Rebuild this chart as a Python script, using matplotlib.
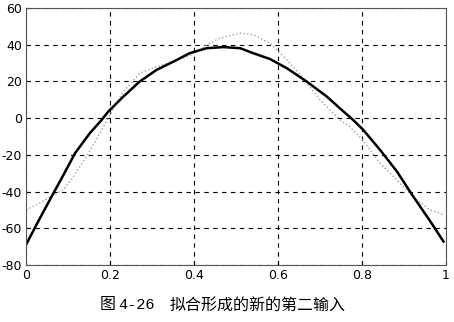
import numpy as np
import matplotlib.pyplot as plt

plt.rcParams['font.family'] = ['DejaVu Sans', 'Noto Sans CJK SC']
plt.rcParams['axes.unicode_minus'] = False

# fitted curve (solid black)
fit_x = [0, 0.025, 0.061, 0.085, 0.117, 0.152, 0.18, 0.196, 0.232, 0.271,
         0.311, 0.351, 0.39, 0.43, 0.47, 0.51, 0.541, 0.581, 0.621, 0.668,
         0.716, 0.755, 0.779, 0.803, 0.843, 0.883, 0.922, 0.962, 0.994]
fit_y = [-69, -58, -42.7, -32.7, -19, -8.2, -1, 3.6, 11.8, 20,
         26.3, 30.8, 35.4, 38.1, 38.7, 38.1, 35.4, 32.2, 27.2, 20,
         11.8, 3.8, -1, -6.4, -17.3, -29, -42.7, -56, -67.2]

# original second input (grey dotted)
orig_x = [0, 0.033, 0.065, 0.089, 0.113, 0.144, 0.176, 0.2, 0.232, 0.271,
          0.311, 0.351, 0.39, 0.438, 0.462, 0.494, 0.51, 0.541, 0.581, 0.621,
          0.66, 0.7, 0.748, 0.771, 0.8, 0.843, 0.89, 0.93, 0.962, 0.994]
orig_y = [-50, -46.3, -41.8, -39, -31.8, -20.9, -8.2, 2, 14.5, 24.5,
          28.1, 30.8, 34, 40.9, 43.6, 45.4, 46.3, 45.4, 40.9, 31.8,
          21.8, 10, -1, -4.6, -11.5, -24.5, -35.4, -44.5, -50, -52.7]

x_ticks = [0, 0.2, 0.4, 0.6, 0.8, 1]
x_labels = ['0', '0.2', '0.4', '0.6', '0.8', '1']
y_ticks = [-80, -60, -40, -20, 0, 20, 40, 60]

W, H = 454, 322
fig = plt.figure(figsize=(W / 100, H / 100), dpi=100)
ax = fig.add_axes([26 / W, 1 - 265 / H, 420 / W, 257 / H])

ax.plot(orig_x, orig_y, color='#a0a0a0', lw=1.0, linestyle=':')
ax.plot(fit_x, fit_y, color='black', lw=1.8)

ax.set_xlim(0, 1)
ax.set_ylim(-80, 60)
ax.set_xticks(x_ticks)
ax.set_xticklabels(x_labels)
ax.set_yticks(y_ticks)
ax.grid(True, color='black', linestyle=(0, (4, 4)), lw=0.8)
ax.tick_params(direction='in', length=3, labelsize=9, pad=3)
for s in ax.spines.values():
    s.set_linewidth(0.8)
    s.set_color('#555555')

# caption
cy = 1 - 305 / H
fig.text(100 / W, cy, '图', fontsize=11.5, family=['Noto Sans CJK SC'], ha='left', va='center')
fig.text(118 / W, cy, '4-26', fontsize=11, family=['Liberation Mono'], ha='left', va='center')
fig.text(170 / W, cy, '拟合形成的新的第二输入', fontsize=11.5,
         family=['Noto Sans CJK SC'], ha='left', va='center')

fig.savefig('out.png', dpi=100)
